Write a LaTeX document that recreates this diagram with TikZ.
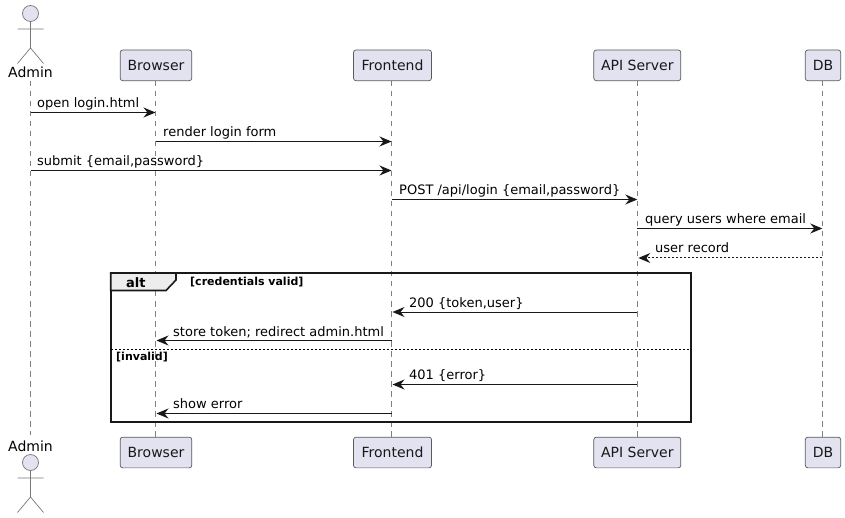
\documentclass[tikz,border=0pt]{standalone}
\usepackage{fontspec}
\setmainfont{DejaVu Sans}
\usetikzlibrary{arrows.meta,calc}
\definecolor{pfill}{HTML}{E2E2F0}
\definecolor{pline}{HTML}{181818}
\definecolor{bline}{HTML}{5A5A5A}
\definecolor{lline}{HTML}{808080}
\definecolor{aline}{HTML}{777777}
\tikzset{
  x=1pt,y=-1pt,
  part/.style={draw=bline,fill=pfill,line width=0.7pt,rounded corners=2.5pt,inner sep=0pt,minimum height=30.7pt,font=\fontsize{14}{14}\selectfont,text=pline,anchor=center},
  life/.style={draw=lline,line width=0.8pt,dash pattern=on 5.5pt off 4.5pt},
  msg/.style={draw=pline,line width=1pt,-{Stealth[length=12pt,width=10pt,inset=4pt]}},
  ret/.style={msg,dash pattern=on 2pt off 2pt},
  lft/.style={shorten >=1pt},
  lab/.style={anchor=base west,inner sep=0pt,font=\fontsize{13}{13}\selectfont,text=black},
  guard/.style={anchor=base west,inner sep=0pt,font=\fontsize{11}{11}\selectfont\bfseries,text=black},
  actorline/.style={draw=aline,line width=0.7pt,fill=pfill},
  aname/.style={anchor=base,inner sep=0pt,font=\fontsize{14}{14}\selectfont,text=black},
  frameline/.style={draw=black!90,line width=2pt},
}
\newcommand{\stick}[2]{%
  \draw[actorline] (#1,#2) circle[radius=8];
  \draw[actorline,fill=none] (#1,#2+8) -- (#1,#2+34.5)
    (#1-13,#2+15.5) -- (#1+13,#2+15.5)
    (#1-13,#2+50) -- (#1,#2+34.5) -- (#1+13,#2+50);
}
\begin{document}
\begin{tikzpicture}
\useasboundingbox (0,0) rectangle (845,518);
% lifelines
\coordinate (adminT) at (30.5,81);
\coordinate (adminB) at (30.5,435);
\coordinate (browserT) at (155.5,81);
\coordinate (browserB) at (155.5,437);
\coordinate (frontT) at (391.5,81);
\coordinate (frontB) at (391.5,437);
\coordinate (apiT) at (637.3,81);
\coordinate (apiB) at (637.3,437);
\coordinate (dbT) at (822.3,81);
\coordinate (dbB) at (822.3,437);
\draw[life] (adminT) -- (adminB);
\draw[life] (browserT) -- (browserB);
\draw[life] (frontT) -- (frontB);
\draw[life] (apiT) -- (apiB);
\draw[life] (dbT) -- (dbB);
% participants
\node[part,minimum width=71.5pt] (browser1) at (156,65.35) {Browser};
\node[part,minimum width=71.5pt] (browser2) at (156,452.5) {Browser};
\node[part,minimum width=78pt] (front1) at (392.5,65.35) {Frontend};
\node[part,minimum width=78pt] (front2) at (392.5,452.5) {Frontend};
\node[part,minimum width=87pt] (api1) at (637.3,65.35) {API Server};
\node[part,minimum width=87pt] (api2) at (637.3,452.5) {API Server};
\node[part,minimum width=35.4pt] (db1) at (823,65.35) {DB};
\node[part,minimum width=35.4pt] (db2) at (823,452.5) {DB};
% actors
\stick{30.5}{13.5}
\stick{30.5}{462.5}
\node[aname] (adminN1) at (30.5,78) {Admin};
\node[aname] (adminN2) at (30.5,451) {Admin};
% messages
\draw[msg] (adminT |- 0,112.5) -- (browserT |- 0,112.5);
\node[lab] (l1) at (37,108) {open login.html};
\draw[msg] (browserT |- 0,141.5) -- (frontT |- 0,141.5);
\node[lab] (l2) at (163,137) {render login form};
\draw[msg] (adminT |- 0,170.5) -- (frontT |- 0,170.5);
\node[lab] (l3) at (37,166) {submit \{email,password\}};
\draw[msg] (frontT |- 0,199.5) -- (apiT |- 0,199.5);
\node[lab] (l4) at (399,195) {POST /api/login \{email,password\}};
\draw[msg] (apiT |- 0,228.5) -- (dbT |- 0,228.5);
\node[lab] (l5) at (645,224) {query users where email};
\draw[ret,lft] (dbT |- 0,258) -- (apiT |- 0,258);
\node[lab] (l6) at (655,253) {user record};
% alt frame
\draw[frameline] (110.7,273) rectangle (691,421.7);
\path[fill=black!7,draw=black!90,line width=1.6pt] (110.7,273) -- (176,273) -- (176,280) -- (166,290.5) -- (110.7,290.5) -- cycle;
\node[anchor=base west,inner sep=0pt,font=\fontsize{13}{13}\selectfont\bfseries] (altL) at (126,287.5) {alt};
\node[guard] (g1) at (190,286) {[credentials valid]};
\draw[black,line width=0.7pt,dash pattern=on 2pt off 2pt] (110.7,349) -- (691,349);
\node[guard] (g2) at (116,360) {[invalid]};
% alt messages
\draw[msg,lft] (apiT |- 0,312) -- (frontT |- 0,312);
\node[lab] (l7) at (409,307) {200 \{token,user\}};
\draw[msg,lft] (frontT |- 0,340.5) -- (browserT |- 0,340.5);
\node[lab] (l8) at (173,336) {store token; redirect admin.html};
\draw[msg,lft] (apiT |- 0,384.5) -- (frontT |- 0,384.5);
\node[lab] (l9) at (409,379) {401 \{error\}};
\draw[msg,lft] (frontT |- 0,413.5) -- (browserT |- 0,413.5);
\node[lab] (l10) at (173,408) {show error};
\end{tikzpicture}
\end{document}
